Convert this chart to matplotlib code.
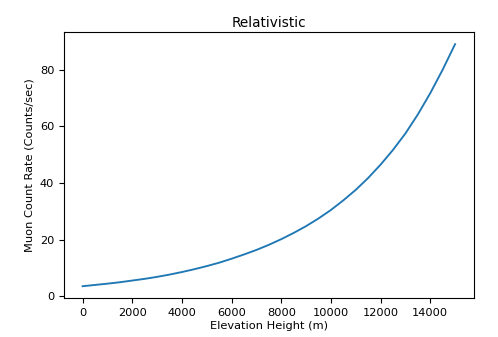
import matplotlib.pyplot as plt

# Elevation heights (m) and muon count rates
height = [0, 500, 1000, 1500, 2000, 2500, 3000, 3500, 4000, 4500, 5000,
          5500, 6000, 6500, 7000, 7500, 8000, 8500, 9000, 9500, 10000,
          10500, 11000, 11500, 12000, 12500, 13000, 13500, 14000, 14500, 15000]
rate = [3.6, 4.05, 4.5, 5.0, 5.6, 6.2, 6.9, 7.7, 8.6, 9.6, 10.7,
        11.9, 13.3, 14.8, 16.4, 18.2, 20.2, 22.4, 24.8, 27.5, 30.5,
        33.9, 37.6, 41.8, 46.5, 51.7, 57.5, 64.2, 71.7, 80.0, 89.0]

plt.rcParams['font.size'] = 8.2

fig = plt.figure(figsize=(4.98, 3.37), dpi=100)
ax = fig.add_axes([0.1285, 0.1148, 0.8227, 0.790])

ax.plot(height, rate, color='#1f77b4', linewidth=1.35)
ax.set_title("Relativistic", pad=4)
ax.set_xlabel("Elevation Height (m)", labelpad=2)
ax.set_ylabel("Muon Count Rate (Counts/sec)")

fig.savefig("out.png", dpi=100)
